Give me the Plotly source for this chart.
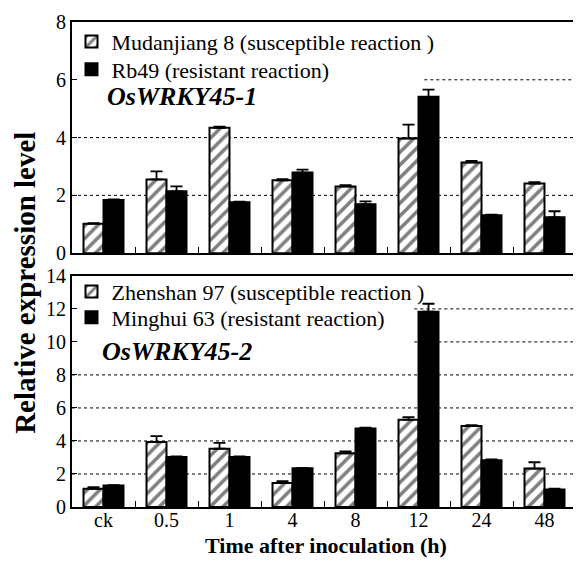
import plotly.graph_objects as go

categories = ["ck", "0.5", "1", "4", "8", "12", "24", "48"]

mudanjiang8 = [1.02, 2.55, 4.34, 2.52, 2.31, 3.97, 3.14, 2.41]
mudanjiang8_err = [0.02, 0.28, 0.04, 0.04, 0.04, 0.48, 0.05, 0.05]
rb49 = [1.84, 2.14, 1.76, 2.79, 1.69, 5.41, 1.31, 1.24]
rb49_err = [0.02, 0.17, 0.02, 0.10, 0.10, 0.25, 0.02, 0.21]

zhenshan97 = [1.10, 3.93, 3.53, 1.46, 3.25, 5.29, 4.91, 2.33]
zhenshan97_err = [0.10, 0.36, 0.36, 0.10, 0.12, 0.15, 0.05, 0.38]
minghui63 = [1.30, 3.03, 3.03, 2.35, 4.75, 11.83, 2.83, 1.06]
minghui63_err = [0.02, 0.03, 0.03, 0.02, 0.05, 0.48, 0.05, 0.05]

names_top = ["Mudanjiang 8 (susceptible reaction )", "Rb49 (resistant reaction)"]
names_bot = ["Zhenshan 97 (susceptible reaction )", "Minghui 63 (resistant reaction)"]
gene_top = "<b><i>OsWRKY45-1</i></b>"
gene_bot = "<b><i>OsWRKY45-2</i></b>"

# dashed reference lines: (value, start fraction of plot width)
grid_top = [(2, 0.0), (4, 0.0), (6, (425 - 72) / 505)]
grid_bot = [(2, 0.0), (4, 0.0), (6, 0.0), (8, 0.0), (10, (415 - 72) / 505), (12, (415 - 72) / 505)]

FONT = "Liberation Serif"

hatch = dict(shape="/", fgcolor="black", bgcolor="white", size=9, solidity=0.4)


def err(arr):
    return dict(type="data", symmetric=False, array=arr, arrayminus=[0] * len(arr),
                color="black", thickness=1.8, width=6)


fig = go.Figure()
fig.add_trace(go.Bar(x=categories, y=mudanjiang8, name=names_top[0], error_y=err(mudanjiang8_err),
                     marker=dict(color="white", pattern=hatch, line=dict(color="black", width=2)),
                     xaxis="x", yaxis="y", legend="legend"))
fig.add_trace(go.Bar(x=categories, y=rb49, name=names_top[1], error_y=err(rb49_err),
                     marker=dict(color="black", line=dict(color="black", width=2)),
                     xaxis="x", yaxis="y", legend="legend2"))
fig.add_trace(go.Bar(x=categories, y=zhenshan97, name=names_bot[0], error_y=err(zhenshan97_err),
                     marker=dict(color="white", pattern=hatch, line=dict(color="black", width=2)),
                     xaxis="x2", yaxis="y2", legend="legend3"))
fig.add_trace(go.Bar(x=categories, y=minghui63, name=names_bot[1], error_y=err(minghui63_err),
                     marker=dict(color="black", line=dict(color="black", width=2)),
                     xaxis="x2", yaxis="y2", legend="legend4"))

# page has an 8px body margin, so the figure is 8px smaller than the window
W, H = 573, 553
ml, mr, mt, mb = 64, 3, 8, 54
plot_h = H - mt - mb  # 491 ; plot bottom at page y=507


def py(p):
    return (507 - p) / plot_h


def px(p):
    return (p - 72) / 505


top_dom = [py(250), 1.0]
bot_dom = [0.0, py(273)]

xcommon = dict(type="category", categoryorder="array", categoryarray=categories,
               showline=True, linecolor="black", linewidth=2, mirror=True,
               ticks="inside", tickson="boundaries", ticklen=6, tickcolor="black", tickwidth=1,
               showgrid=False, range=[-0.5, 7.5],
               tickfont=dict(family=FONT, size=20, color="black"))
ycommon = dict(showline=True, linecolor="black", linewidth=2, mirror=True,
               ticks="inside", ticklen=5, tickcolor="black", tickwidth=1,
               showgrid=False, zeroline=False, dtick=2,
               tickfont=dict(family=FONT, size=20, color="black"))

leg_font = dict(family=FONT, size=22, color="black")


def leg(yc):
    return dict(x=px(71.5), xanchor="left", y=py(yc), yanchor="middle",
                bgcolor="rgba(0,0,0,0)", font=leg_font, tracegroupgap=0)


fig.update_layout(
    width=W, height=H,
    margin=dict(l=ml, r=mr, t=mt, b=mb),
    paper_bgcolor="white", plot_bgcolor="white",
    barmode="group", bargap=0.365, bargroupgap=0,
    font=dict(family=FONT, size=20, color="black"),
    xaxis=dict(xcommon, domain=[0, 1], anchor="y", showticklabels=False),
    yaxis=dict(ycommon, domain=top_dom, anchor="x", range=[0, 8]),
    xaxis2=dict(xcommon, domain=[0, 1], anchor="y2", showticklabels=True, ticklabelstandoff=-6),
    yaxis2=dict(ycommon, domain=bot_dom, anchor="x2", range=[0, 14]),
    legend=leg(36),
    legend2=leg(64),
    legend3=leg(289),
    legend4=leg(315),
    showlegend=True,
)

for v, x0 in grid_top:
    fig.add_shape(type="line", xref="x domain", yref="y", x0=x0, x1=1, y0=v, y1=v,
                  line=dict(color="black", width=1, dash="3px,3px"), layer="below")
for v, x0 in grid_bot:
    fig.add_shape(type="line", xref="x2 domain", yref="y2", x0=x0, x1=1, y0=v, y1=v,
                  line=dict(color="black", width=1, dash="3px,3px"), layer="below")

fig.add_annotation(text=gene_top, xref="paper", yref="paper", x=px(105), xanchor="left",
                   y=py(91), yanchor="middle", showarrow=False,
                   font=dict(family=FONT, size=26, color="black"))
fig.add_annotation(text=gene_bot, xref="paper", yref="paper", x=px(100), xanchor="left",
                   y=py(350), yanchor="middle", showarrow=False,
                   font=dict(family=FONT, size=26, color="black"))
fig.add_annotation(text="<b>Relative expression level</b>", xref="paper", yref="paper",
                   x=px(25), xanchor="center", y=py(280), yanchor="middle",
                   textangle=-90, showarrow=False, font=dict(family=FONT, size=29, color="black"))
fig.add_annotation(text="<b>Time after inoculation (h)</b>", xref="paper", yref="paper",
                   x=px(327), xanchor="center", y=py(546), yanchor="middle",
                   showarrow=False, font=dict(family=FONT, size=22, color="black"))

fig.write_html("out.html")
